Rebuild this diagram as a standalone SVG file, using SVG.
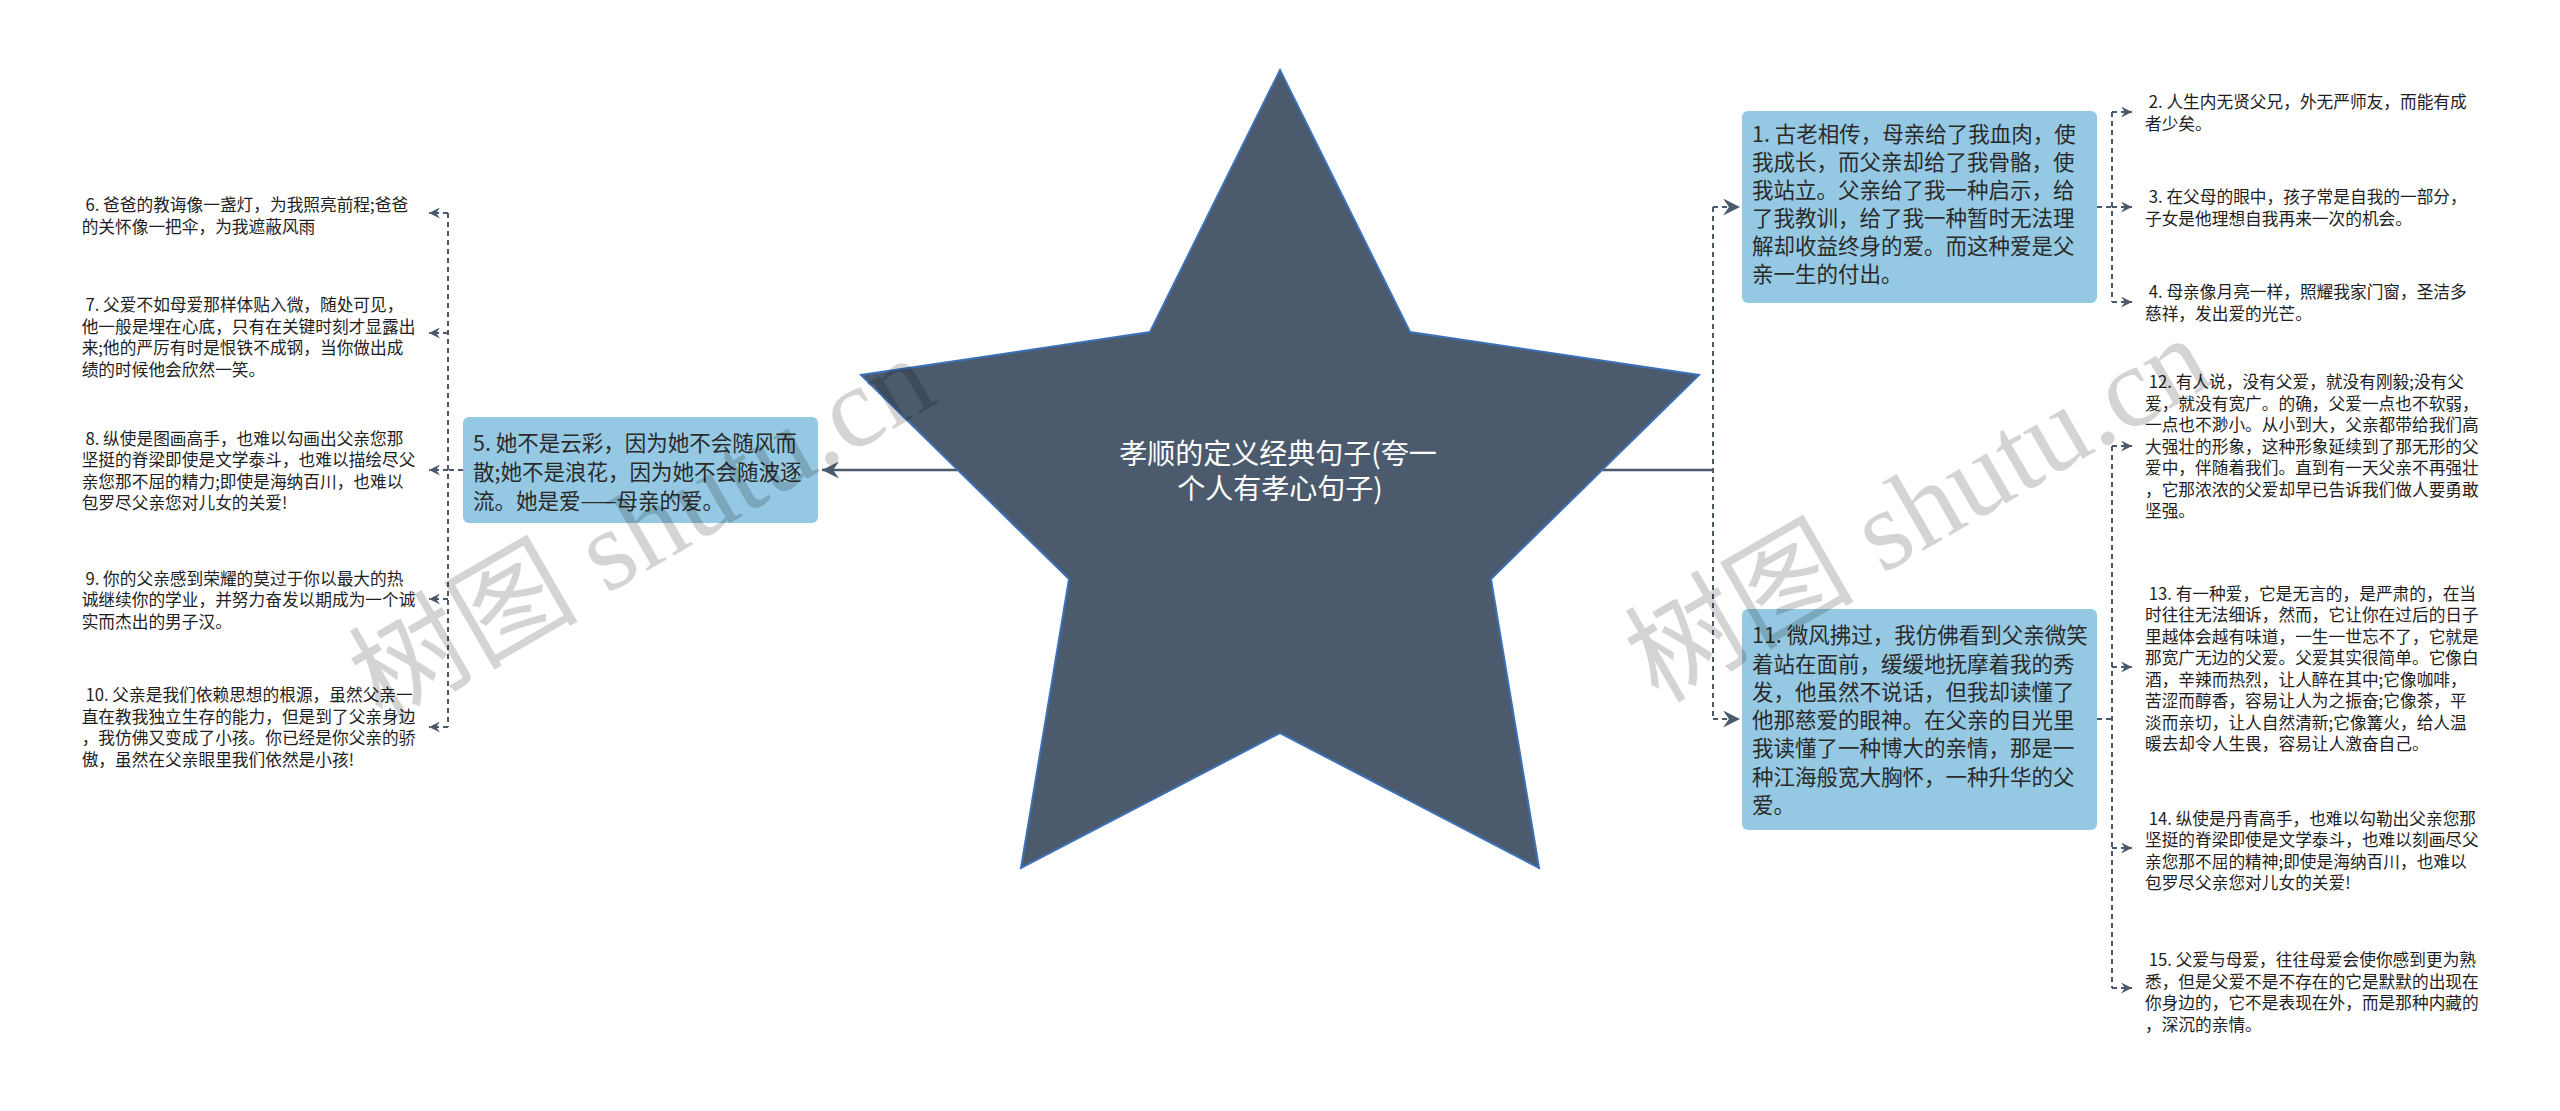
<svg xmlns="http://www.w3.org/2000/svg" width="2560" height="1111" viewBox="0 0 2560 1111">
<style>
.dash{fill:none;stroke:#4a5a6c;stroke-width:2;stroke-dasharray:5 4}
.solid{fill:none;stroke:#4a5a6c;stroke-width:2.5}
.box{fill:#95c9e3}
.tn{font-family:"Noto Sans CJK SC","Noto Sans",sans-serif;font-size:21.5px;fill:#2a2a2a}
.tl{font-family:"Noto Sans CJK SC","Noto Sans",sans-serif;font-size:16.7px;fill:#1e1e1e}
.tc{font-family:"Noto Sans CJK SC","Noto Sans",sans-serif;font-size:28px;fill:#fff;text-anchor:middle}
.wm{font-family:"Liberation Serif","Noto Sans CJK SC",serif;font-size:115px;fill:#000;fill-opacity:0.17}
</style>
<defs>
<marker id="arr" viewBox="0 0 10 10" refX="10" refY="5" markerWidth="11" markerHeight="11" markerUnits="userSpaceOnUse" orient="auto"><path d="M0,0 L10,5 L0,10 L3.5,5 Z" fill="#4a5a6c"/></marker>
<marker id="arrb" viewBox="0 0 10 10" refX="10" refY="5" markerWidth="17" markerHeight="17" markerUnits="userSpaceOnUse" orient="auto"><path d="M0,0 L10,5 L0,10 L3.5,5 Z" fill="#4a5a6c"/></marker>
</defs>
<rect width="2560" height="1111" fill="#fff"/>
<g id="connectors">
<path class="solid" d="M1280,470 H822" marker-end="url(#arrb)"/>
<path class="solid" d="M1280,470 H1713"/>
<path class="dash" d="M463,470 H448"/>
<path class="dash" d="M448,213 V727"/>
<path class="dash" d="M448,213 H429" marker-end="url(#arr)"/>
<path class="dash" d="M448,333 H429" marker-end="url(#arr)"/>
<path class="dash" d="M448,470 H429" marker-end="url(#arr)"/>
<path class="dash" d="M448,599 H429" marker-end="url(#arr)"/>
<path class="dash" d="M448,727 H429" marker-end="url(#arr)"/>
<path class="dash" d="M1713,207 V719"/>
<path class="dash" d="M1713,207 H1740" marker-end="url(#arrb)"/>
<path class="dash" d="M1713,719 H1740" marker-end="url(#arrb)"/>
<path class="dash" d="M2097,207 H2112"/>
<path class="dash" d="M2112,112 V302"/>
<path class="dash" d="M2112,112 H2132" marker-end="url(#arr)"/>
<path class="dash" d="M2112,207 H2132" marker-end="url(#arr)"/>
<path class="dash" d="M2112,302 H2132" marker-end="url(#arr)"/>
<path class="dash" d="M2097,719 H2112"/>
<path class="dash" d="M2112,446 V988"/>
<path class="dash" d="M2112,446 H2132" marker-end="url(#arr)"/>
<path class="dash" d="M2112,667 H2132" marker-end="url(#arr)"/>
<path class="dash" d="M2112,848 H2132" marker-end="url(#arr)"/>
<path class="dash" d="M2112,988 H2132" marker-end="url(#arr)"/>
</g>
<g id="node-center">
<polygon points="1280,70 1410,332 1699,375 1491,579 1539,868 1280,733 1021,868 1069,579 861,375 1150,332" fill="#4b5b6d" stroke="#3d72b8" stroke-width="2" stroke-linejoin="miter"/>
<text class="tc"><tspan x="1278" y="464">孝顺的定义经典句子(夸一</tspan><tspan x="1280" y="499">个人有孝心句子)</tspan></text>
</g>
<g id="node-5">
<rect class="box" x="463" y="417" width="355" height="106" rx="6"/>
<text class="tn"><tspan x="473" y="451">5. 她不是云彩，因为她不会随风而</tspan><tspan x="473" y="480">散;她不是浪花，因为她不会随波逐</tspan><tspan x="473" y="508.5">流。她是爱——母亲的爱。</tspan></text>
</g>
<g id="node-1">
<rect class="box" x="1742" y="111" width="355" height="192" rx="6"/>
<text class="tn"><tspan x="1752" y="141.5">1. 古老相传，母亲给了我血肉，使</tspan><tspan x="1752" y="169.5">我成长，而父亲却给了我骨骼，使</tspan><tspan x="1752" y="197.5">我站立。父亲给了我一种启示，给</tspan><tspan x="1752" y="225.5">了我教训，给了我一种暂时无法理</tspan><tspan x="1752" y="253.5">解却收益终身的爱。而这种爱是父</tspan><tspan x="1752" y="281.5">亲一生的付出。</tspan></text>
</g>
<g id="node-11">
<rect class="box" x="1742" y="609" width="355" height="221" rx="6"/>
<text class="tn"><tspan x="1752" y="643.2">11. 微风拂过，我仿佛看到父亲微笑</tspan><tspan x="1752" y="671.5">着站在面前，缓缓地抚摩着我的秀</tspan><tspan x="1752" y="699.8">发，他虽然不说话，但我却读懂了</tspan><tspan x="1752" y="728.1">他那慈爱的眼神。在父亲的目光里</tspan><tspan x="1752" y="756.4">我读懂了一种博大的亲情，那是一</tspan><tspan x="1752" y="784.7">种江海般宽大胸怀，一种升华的父</tspan><tspan x="1752" y="813">爱。</tspan></text>
</g>
<g id="leaf-6"><text class="tl" xml:space="preserve"><tspan x="81.7" y="211.3"> 6. 爸爸的教诲像一盏灯，为我照亮前程;爸爸</tspan><tspan x="81.7" y="232.8">的关怀像一把伞，为我遮蔽风雨</tspan></text></g>
<g id="leaf-7"><text class="tl" xml:space="preserve"><tspan x="81.7" y="311.3"> 7. 父爱不如母爱那样体贴入微，随处可见，</tspan><tspan x="81.7" y="332.8">他一般是埋在心底，只有在关键时刻才显露出</tspan><tspan x="81.7" y="354.3">来;他的严厉有时是恨铁不成钢，当你做出成</tspan><tspan x="81.7" y="375.8">绩的时候他会欣然一笑。</tspan></text></g>
<g id="leaf-8"><text class="tl" xml:space="preserve"><tspan x="81.7" y="444.6"> 8. 纵使是图画高手，也难以勾画出父亲您那</tspan><tspan x="81.7" y="466.1">坚挺的脊梁即使是文学泰斗，也难以描绘尽父</tspan><tspan x="81.7" y="487.6">亲您那不屈的精力;即使是海纳百川，也难以</tspan><tspan x="81.7" y="509.1">包罗尽父亲您对儿女的关爱!</tspan></text></g>
<g id="leaf-9"><text class="tl" xml:space="preserve"><tspan x="81.7" y="584.6"> 9. 你的父亲感到荣耀的莫过于你以最大的热</tspan><tspan x="81.7" y="606.1">诚继续你的学业，并努力奋发以期成为一个诚</tspan><tspan x="81.7" y="627.6">实而杰出的男子汉。</tspan></text></g>
<g id="leaf-10"><text class="tl" xml:space="preserve"><tspan x="81.7" y="701.3"> 10. 父亲是我们依赖思想的根源，虽然父亲一</tspan><tspan x="81.7" y="722.8">直在教我独立生存的能力，但是到了父亲身边</tspan><tspan x="81.7" y="744.3">，我仿佛又变成了小孩。你已经是你父亲的骄</tspan><tspan x="81.7" y="765.8">傲，虽然在父亲眼里我们依然是小孩!</tspan></text></g>
<g id="leaf-2"><text class="tl" xml:space="preserve"><tspan x="2145" y="108"> 2. 人生内无贤父兄，外无严师友，而能有成</tspan><tspan x="2145" y="129.5">者少矣。</tspan></text></g>
<g id="leaf-3"><text class="tl" xml:space="preserve"><tspan x="2145" y="203"> 3. 在父母的眼中，孩子常是自我的一部分，</tspan><tspan x="2145" y="224.5">子女是他理想自我再来一次的机会。</tspan></text></g>
<g id="leaf-4"><text class="tl" xml:space="preserve"><tspan x="2145" y="298"> 4. 母亲像月亮一样，照耀我家门窗，圣洁多</tspan><tspan x="2145" y="319.5">慈祥，发出爱的光芒。</tspan></text></g>
<g id="leaf-12"><text class="tl" xml:space="preserve"><tspan x="2145" y="388"> 12. 有人说，没有父爱，就没有刚毅;没有父</tspan><tspan x="2145" y="409.5">爱，就没有宽广。的确，父爱一点也不软弱，</tspan><tspan x="2145" y="431">一点也不渺小。从小到大，父亲都带给我们高</tspan><tspan x="2145" y="452.5">大强壮的形象，这种形象延续到了那无形的父</tspan><tspan x="2145" y="474">爱中，伴随着我们。直到有一天父亲不再强壮</tspan><tspan x="2145" y="495.5">，它那浓浓的父爱却早已告诉我们做人要勇敢</tspan><tspan x="2145" y="517">坚强。</tspan></text></g>
<g id="leaf-13"><text class="tl" xml:space="preserve"><tspan x="2145" y="599.6"> 13. 有一种爱，它是无言的，是严肃的，在当</tspan><tspan x="2145" y="621.1">时往往无法细诉，然而，它让你在过后的日子</tspan><tspan x="2145" y="642.6">里越体会越有味道，一生一世忘不了，它就是</tspan><tspan x="2145" y="664.1">那宽广无边的父爱。父爱其实很简单。它像白</tspan><tspan x="2145" y="685.6">酒，辛辣而热烈，让人醉在其中;它像咖啡，</tspan><tspan x="2145" y="707.1">苦涩而醇香，容易让人为之振奋;它像茶，平</tspan><tspan x="2145" y="728.6">淡而亲切，让人自然清新;它像篝火，给人温</tspan><tspan x="2145" y="750.1">暖去却令人生畏，容易让人激奋自己。</tspan></text></g>
<g id="leaf-14"><text class="tl" xml:space="preserve"><tspan x="2145" y="824.6"> 14. 纵使是丹青高手，也难以勾勒出父亲您那</tspan><tspan x="2145" y="846.1">坚挺的脊梁即使是文学泰斗，也难以刻画尽父</tspan><tspan x="2145" y="867.6">亲您那不屈的精神;即使是海纳百川，也难以</tspan><tspan x="2145" y="889.1">包罗尽父亲您对儿女的关爱!</tspan></text></g>
<g id="leaf-15"><text class="tl" xml:space="preserve"><tspan x="2145" y="966.3"> 15. 父爱与母爱，往往母爱会使你感到更为熟</tspan><tspan x="2145" y="987.8">悉，但是父爱不是不存在的它是默默的出现在</tspan><tspan x="2145" y="1009.3">你身边的，它不是表现在外，而是那种内藏的</tspan><tspan x="2145" y="1030.8">，深沉的亲情。</tspan></text></g>
<g id="watermark">
<text class="wm" x="382" y="724" transform="rotate(-30 382 724)">树图 shutu.cn</text>
<text class="wm" x="1658" y="704" transform="rotate(-30 1658 704)">树图 shutu.cn</text>
</g>
</svg>
